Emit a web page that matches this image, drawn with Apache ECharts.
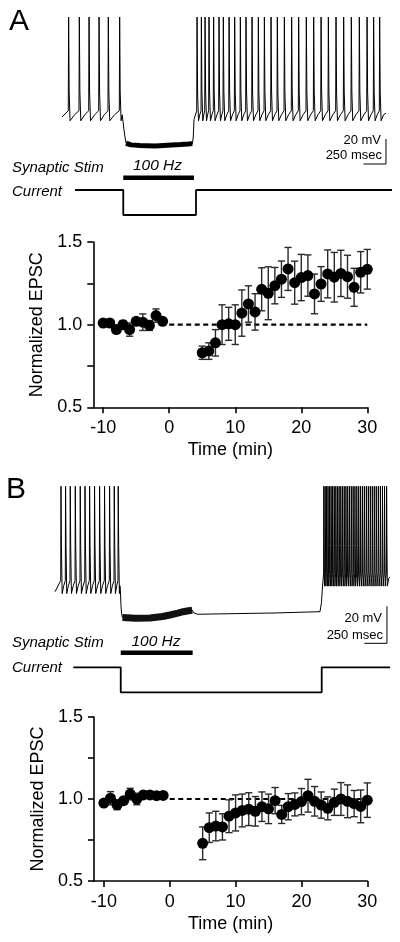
<!DOCTYPE html>
<html><head><meta charset="utf-8">
<script src="https://cdn.jsdelivr.net/npm/echarts@6/dist/echarts.min.js"></script>
<style>html,body{margin:0;padding:0;background:#fff}#c{width:400px;height:942px}</style>
</head><body><div id="c"></div>
<script>
// ===== Normalized EPSC data (time in min) =====
const timePre  = [-10,-9,-8,-7,-6,-5,-4,-3,-2,-1];
const timePost = [5,6,7,8,9,10,11,12,13,14,15,16,17,18,19,20,21,22,23,24,25,26,27,28,29,30];

const epscA_pre  = [1.01,1.01,0.97,1.00,0.97,1.02,1.015,0.995,1.055,1.02];
const errA_pre   = [0.01,0.01,0.02,0.025,0.04,0.02,0.05,0.03,0.04,0.02];
const epscA_post = [0.83,0.84,0.89,1.00,1.005,1.00,1.07,1.125,1.077,1.214,1.19,1.236,1.275,1.337,1.254,1.285,1.297,1.186,1.246,1.307,1.287,1.31,1.29,1.226,1.317,1.335];
const errA_post  = [0.04,0.05,0.08,0.12,0.10,0.12,0.14,0.11,0.11,0.13,0.16,0.11,0.11,0.13,0.13,0.14,0.125,0.12,0.105,0.145,0.15,0.14,0.13,0.115,0.125,0.12];

const epscB_pre  = [0.975,1.005,0.965,0.99,1.03,1.00,1.025,1.025,1.02,1.022];
const errB_pre   = [0.02,0.04,0.03,0.02,0.035,0.035,0.02,0.02,0.02,0.02];
const epscB_post = [0.73,0.825,0.835,0.83,0.895,0.915,0.93,0.938,0.925,0.953,0.94,0.99,0.906,0.953,0.967,0.984,1.02,0.986,0.963,0.943,0.98,1.0,0.986,0.972,0.955,0.993];
const errB_post  = [0.10,0.09,0.09,0.08,0.10,0.11,0.10,0.10,0.09,0.09,0.09,0.08,0.055,0.08,0.07,0.08,0.10,0.09,0.08,0.07,0.08,0.10,0.10,0.08,0.10,0.105];

const refLine = [[0,1],[30,1]];
const xTicks = [-10,0,10,20,30];
const yTicks = [0.5,0.75,1.0,1.25,1.5];
const yLabels = [0.5,1.0,1.5];

// ===== Voltage traces (time in ms, voltage in mV) =====
const spikesA_pre  = [203,322,430,541,644,770];
const spikesA_post = [1630,1678,1719,1763,1814,1874,1922,1986,2048,2111,2174,2241,2311,2378,2452,2522,2600,2681,2759,2844,2926,3008,3089,3174,3259,3344,3433,3519,3592,3659];
const hyperA = [[814,-59.5],[822,-70],[833,-76],[845,-81],[900,-82.3],[1000,-82.8],[1167,-83.2],[1352,-82.4],[1450,-82],[1537,-81.6],[1582,-81.3],[1592,-76],[1600,-62]];
const bandA  = [[845,-81],[900,-82.3],[1000,-82.8],[1167,-83.2],[1352,-82.4],[1450,-82],[1537,-81.6],[1582,-81.3]];

const spikesB_pre  = [119,170,222,278,333,386,437,492,548,603,659,711,755];
const spikesB_post = [3040,3055,3071,3087,3104,3121,3138,3156,3174,3192,3210,3229,3248,3267,3286,3306,3326,3346,3366,3386,3407,3428,3449,3470,3491,3513,3535,3557,3579,3601,3623,3646,3669,3692,3715,3738];
const hyperB = [[782,-59],[788,-67],[796,-72],[805,-74],[950,-74.3],[1111,-74.2],[1250,-73.4],[1333,-72.6],[1420,-71.6],[1481,-70.8],[1540,-70.3],[1580,-70],[1600,-71.5],[1640,-72.2],[2000,-71.9],[2500,-71.5],[3000,-70.8],[3016,-66],[3025,-59]];
const bandB  = [[805,-74],[950,-74.3],[1111,-74.2],[1250,-73.4],[1333,-72.6],[1420,-71.6],[1481,-70.8],[1540,-70.3],[1580,-70]];

// current commands (ms, relative level) and stimulus windows (ms)
const currentA = [[278,0],[814,0],[814,-1],[1622,-1],[1622,0],[3800,0]];
const currentB = [[259,0],[786,0],[786,-1],[3019,-1],[3019,0],[3778,0]];
const stimA = [814,1600];
const stimB = [786,1585];
const scaleMV = 20, scaleMS = 250;

// spike waveform template (offsets in ms)
const shapeA  = {thr:-55, up:4, peak:20, fall:[[10,-40],[20,-63]]};
const shapeB  = {thr:-54, up:3, peak:-3, fall:[[8,-35],[16,-61]]};
const shapeBd = {thr:-50, up:2, peak:-3, fall:[[6,-35],[10,-57]]};

function train(spikes, sh, tEnd){
  const pts=[];
  spikes.forEach((ts,i)=>{
    const next = i+1<spikes.length ? spikes[i+1] : tEnd;
    pts.push([ts,sh.thr],[ts+sh.up,sh.peak]);
    sh.fall.forEach(f=>pts.push([ts+f[0],f[1]]));
    const lf = sh.fall[sh.fall.length-1];
    const tr = ts+lf[0];
    pts.push([tr+(next-tr)*0.5, lf[1]+(sh.thr-lf[1])*0.6]);
  });
  return pts;
}
const traceA = [[133,-60]].concat(train(spikesA_pre,shapeA,814), hyperA, train(spikesA_post,shapeA,3733), [[3733,-57]]);
const traceB = [[56,-60]].concat(train(spikesB_pre,shapeB,782), hyperB, train(spikesB_post,shapeBd,3778), [[3778,-52]]);

const FONT = '"Liberation Sans", Arial, Helvetica, sans-serif';
const chart = echarts.init(document.getElementById('c'), null, {renderer:'canvas'});

function traceAxisX(idx){ return {type:'value', gridIndex:idx, min:0, max:3800, show:false}; }

function scatterAxes(gi){
  return {
    x: {type:'value', gridIndex:gi, min:-11.5, max:30, name:'Time (min)', nameLocation:'middle', nameGap:34,
        nameTextStyle:{fontSize:18, color:'#000', fontFamily:FONT},
        axisLine:{show:true, onZero:false, lineStyle:{color:'#000', width:1.6}},
        axisTick:{show:true, customValues:xTicks, length:6, lineStyle:{color:'#000', width:1.6}},
        axisLabel:{customValues:xTicks, fontSize:18, color:'#000', fontFamily:FONT, margin:12},
        splitLine:{show:false}},
    y: {type:'value', gridIndex:gi, min:0.5, max:1.5, interval:0.25, name:'Normalized EPSC', nameLocation:'middle', nameGap:46,
        nameTextStyle:{fontSize:18, color:'#000', fontFamily:FONT},
        axisLine:{show:true, onZero:false, lineStyle:{color:'#000', width:1.6}},
        axisTick:{show:true, customValues:yTicks, length:6, lineStyle:{color:'#000', width:1.6}},
        axisLabel:{customValues:yLabels, fontSize:18, color:'#000', fontFamily:FONT, margin:11, formatter:v=>v.toFixed(1)},
        splitLine:{show:false}}
  };
}
const sA = scatterAxes(4), sB = scatterAxes(5);

function errSeries(xi, times, vals, errs){
  return {type:'custom', xAxisIndex:xi, yAxisIndex:xi, z:2,
    data: times.map((t,i)=>[t, vals[i], errs[i]]),
    encode:{x:0, y:1},
    renderItem:(params, api)=>{
      const x=api.value(0), y=api.value(1), e=api.value(2);
      const top=api.coord([x,y+e]), bot=api.coord([x,y-e]);
      const w=3.6, st={stroke:'#2a2a2a', lineWidth:1.4};
      return {type:'group', children:[
        {type:'line', shape:{x1:top[0],y1:top[1],x2:bot[0],y2:bot[1]}, style:st},
        {type:'line', shape:{x1:top[0]-w,y1:top[1],x2:top[0]+w,y2:top[1]}, style:st},
        {type:'line', shape:{x1:bot[0]-w,y1:bot[1],x2:bot[0]+w,y2:bot[1]}, style:st}
      ]};
    }};
}
function dotSeries(xi, times, vals){
  return {type:'scatter', xAxisIndex:xi, yAxisIndex:xi, z:3, symbol:'circle', symbolSize:11,
    itemStyle:{color:'#000', opacity:1}, data: times.map((t,i)=>[t, vals[i]])};
}
function lineS(xi, data, width, extra){
  return Object.assign({type:'line', xAxisIndex:xi, yAxisIndex:xi, data:data, symbol:'none', silent:true,
    lineStyle:{color:'#000', width:width}, animation:false}, extra||{});
}

const option = {
  animation:false,
  backgroundColor:'#fff',
  grid:[
    {left:50, width:342, top:12, height:160},          // 0 trace A
    {left:50, width:342, top:170, height:55},          // 1 current A
    {left:50, width:342, top:480.7, height:166.5},     // 2 trace B
    {left:50, width:342, top:647.3, height:55},        // 3 current B
    {left:93.3, width:274, top:242, height:165.3},     // 4 EPSC A
    {left:94, width:273.3, top:717, height:164}        // 5 EPSC B
  ],
  xAxis:[traceAxisX(0), traceAxisX(1), traceAxisX(2), traceAxisX(3), sA.x, sB.x],
  yAxis:[
    {type:'value', gridIndex:0, min:-104, max:24, show:false},
    {type:'value', gridIndex:1, min:-1.4, max:0.8, show:false},
    {type:'value', gridIndex:2, min:-90, max:0, show:false},
    {type:'value', gridIndex:3, min:-1.4, max:0.8, show:false},
    sA.y, sB.y
  ],
  series:[
    // trace A
    lineS(0, traceA, 1),
    lineS(0, bandA, 5),
    lineS(0, [[3733-scaleMS,-97.6],[3733,-97.6],[3733,-97.6+scaleMV]], 1),
    // current A + stim
    lineS(1, currentA, 1.8),
    lineS(1, [[stimA[0],0.49],[stimA[1],0.49]], 4.5),
    // trace B
    lineS(2, traceB, 1),
    lineS(2, bandB, 7, {lineStyle:{color:'#111', width:7}}),
    lineS(2, [[3744-scaleMS,-87.9],[3744,-87.9],[3744,-87.9+scaleMV]], 1),
    // current B + stim
    lineS(3, currentB, 1.8),
    lineS(3, [[stimB[0],0.58],[stimB[1],0.58]], 4.5),
    // EPSC A
    lineS(4, refLine, 2.2, {z:1, lineStyle:{color:'#000', width:2.2, type:[5,3.5]}}),
    errSeries(4, timePre, epscA_pre, errA_pre),
    errSeries(4, timePost, epscA_post, errA_post),
    dotSeries(4, timePre, epscA_pre),
    dotSeries(4, timePost, epscA_post),
    // EPSC B
    lineS(5, refLine, 2.2, {z:1, lineStyle:{color:'#000', width:2.2, type:[5,3.5]}}),
    errSeries(5, timePre, epscB_pre, errB_pre),
    errSeries(5, timePost, epscB_post, errB_post),
    dotSeries(5, timePre, epscB_pre),
    dotSeries(5, timePost, epscB_post)
  ],
  graphic:[
    txt('A', 9, 22, '30px', 'left', false),
    txt('B', 6, 490, '30px', 'left', false),
    txt('Synaptic Stim', 12, 168, '15px', 'left', true),
    txt('Current', 12, 191.5, '15px', 'left', true),
    txt('100 Hz', 157.5, 166, '15.5px', 'center', true),
    txt('20 mV', 381, 140, '13px', 'right', false),
    txt('250 msec', 382, 155, '13px', 'right', false),
    txt('Synaptic Stim', 12, 643, '15px', 'left', true),
    txt('Current', 12, 668, '15px', 'left', true),
    txt('100 Hz', 156, 642, '15.5px', 'center', true),
    txt('20 mV', 382, 618.3, '13px', 'right', false),
    txt('250 msec', 383, 635, '13px', 'right', false)
  ]
};
function txt(s, x, y, size, align, italic){
  return {type:'text', x:x, y:y, silent:true, style:{text:s, font:(italic?'italic ':'')+size+' '+FONT,
    fill:'#000', align:align, verticalAlign:'middle', textAlign:align, textVerticalAlign:'middle'}};
}
chart.setOption(option);
</script></body></html>
